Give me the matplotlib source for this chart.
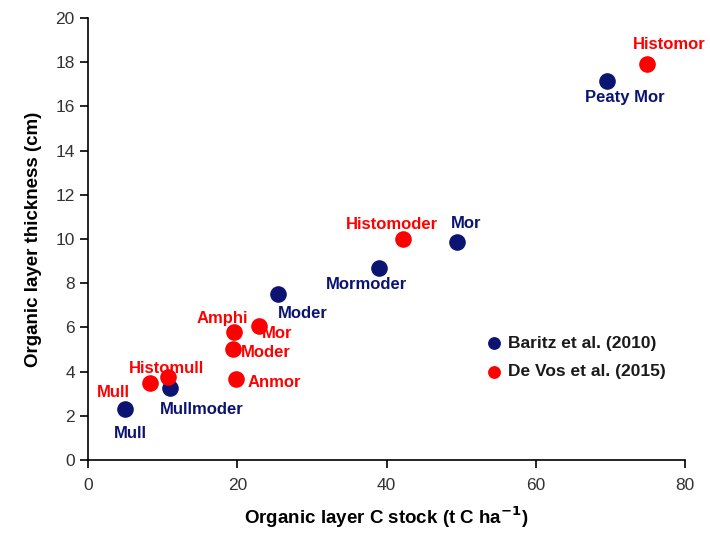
import matplotlib
matplotlib.use('Agg')
import matplotlib.pyplot as plt

plt.rcParams['font.family'] = ['Liberation Sans', 'DejaVu Sans']

COLOR_BARITZ = '#0b1470'
COLOR_DEVOS = '#ff0000'

# Baritz et al. (2010)
baritz_names = ['Mull', 'Mullmoder', 'Moder', 'Mormoder', 'Mor', 'Peaty Mor']
baritz_x = [5.0, 11.0, 25.5, 39.0, 49.4, 69.5]
baritz_y = [2.3, 3.25, 7.5, 8.7, 9.85, 17.15]

# De Vos et al. (2015)
devos_names = ['Mull', 'Histomull', 'Amphi', 'Mor', 'Moder', 'Anmor', 'Histomoder', 'Histomor']
devos_x = [8.3, 10.7, 19.6, 22.9, 19.4, 19.8, 42.2, 74.9]
devos_y = [3.48, 3.76, 5.8, 6.06, 5.02, 3.67, 10.0, 17.9]

# label centre offsets from the point, in pixels
baritz_off = [(5, -24), (32, -21), (24, -19), (-13, -17), (9, 19), (18, -17)]
devos_off = [(-37, -9), (-1, 8), (-12, 13), (18, -8), (33, -4), (39, -4),
             (-11, 14), (22, 20)]

fig = plt.figure(figsize=(7.1, 5.43), dpi=100)
ax = fig.add_axes([0.124, 0.153, 0.841, 0.814])

ax.scatter(baritz_x, baritz_y, s=120, color=COLOR_BARITZ, zorder=3,
           label='Baritz et al. (2010)')
ax.scatter(devos_x, devos_y, s=120, color=COLOR_DEVOS, zorder=3,
           label='De Vos et al. (2015)')

for n, x, y, (dx, dy) in zip(baritz_names, baritz_x, baritz_y, baritz_off):
    ax.annotate(n, (x, y), xytext=(dx, dy), textcoords='offset pixels',
                ha='center', va='center', color=COLOR_BARITZ, fontsize=12,
                fontweight='bold')
for n, x, y, (dx, dy) in zip(devos_names, devos_x, devos_y, devos_off):
    ax.annotate(n, (x, y), xytext=(dx, dy), textcoords='offset pixels',
                ha='center', va='center', color=COLOR_DEVOS, fontsize=12,
                fontweight='bold')

ax.set_xlim(0, 80)
ax.set_ylim(0, 20)
ax.set_xticks(range(0, 81, 20))
ax.set_yticks(range(0, 21, 2))
ax.spines['top'].set_visible(False)
ax.spines['right'].set_visible(False)
ax.spines['left'].set_linewidth(1.2)
ax.spines['bottom'].set_linewidth(1.2)
ax.tick_params(direction='out', length=6, width=1.2, labelsize=12.5,
               labelcolor='#333333')
ax.tick_params(axis='x', pad=7)

ax.set_xlabel('Organic layer C stock (t C ha$^{\\mathbf{-1}}$)', fontsize=13.5,
              fontweight='bold', labelpad=8)
ax.set_ylabel('Organic layer thickness (cm)', fontsize=13.5, fontweight='bold',
              labelpad=10)

leg = ax.legend(loc='center left', bbox_to_anchor=(0.668, 0.232), frameon=False,
                handlelength=0.8, handletextpad=0.4, borderpad=0, borderaxespad=0,
                markerscale=0.75, labelspacing=0.78,
                prop={'weight': 'bold', 'size': 12.5})
for t in leg.get_texts():
    t.set_color('#1a1a1a')

fig.savefig('out.png', dpi=100)
